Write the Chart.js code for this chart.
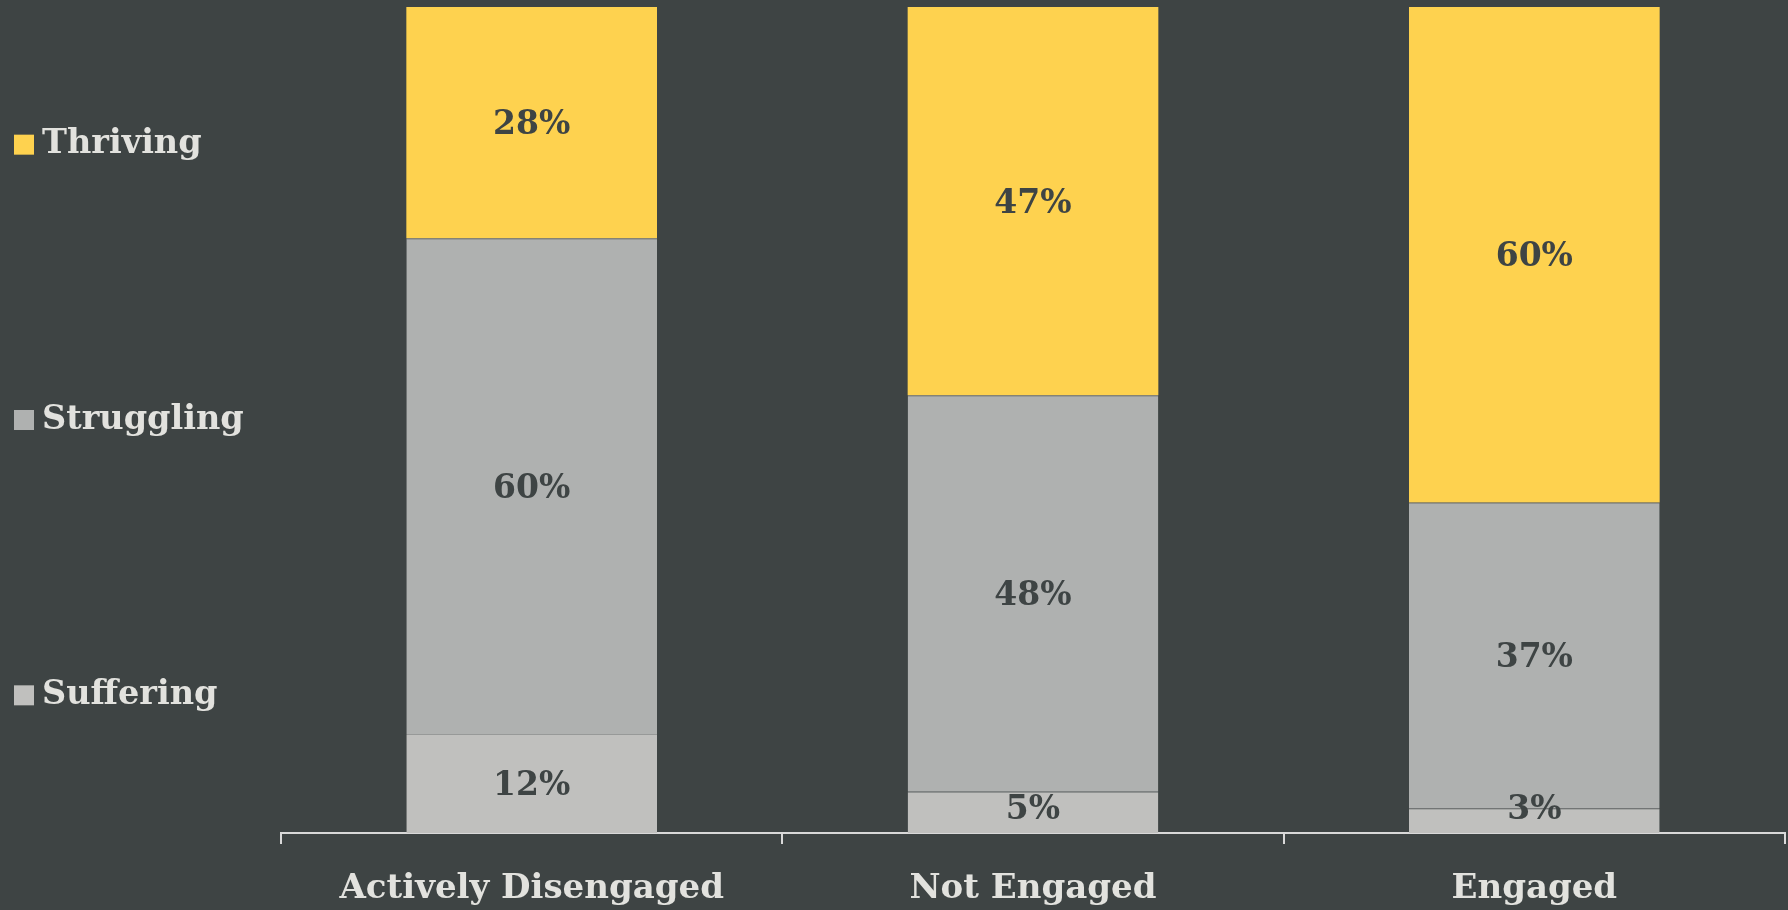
<!DOCTYPE html>
<html>
<head>
<meta charset="utf-8">
<script src="https://cdn.jsdelivr.net/npm/chart.js@4.4.0/dist/chart.umd.min.js"></script>
<style>
  html, body { margin: 0; padding: 0; background: #3e4444; }
  #wrap { width: 1788px; height: 910px; }
</style>
</head>
<body>
<div id="wrap"><canvas id="myChart"></canvas></div>
<script>
// engagement groups and wellbeing split (percent)
var groups = ['Actively Disengaged', 'Not Engaged', 'Engaged'];
var suffering = [12, 5, 3];
var struggling = [60, 48, 37];
var thriving = [28, 47, 60];

var serif = '"DejaVu Serif", Georgia, serif';
var bg = '#3e4444';
var light = '#e2e2de';

// percent text in the middle of every segment
const valueLabels = {
  id: 'valueLabels',
  afterDatasetsDraw(chart) {
    const ctx = chart.ctx;
    ctx.save();
    ctx.font = 'bold 33px ' + serif;
    ctx.fillStyle = bg;
    ctx.textAlign = 'center';
    ctx.textBaseline = 'middle';
    chart.data.datasets.forEach((ds, i) => {
      chart.getDatasetMeta(i).data.forEach((bar, j) => {
        const p = bar.getProps(['x', 'y', 'base'], true);
        let y = (p.y + p.base) / 2 + 3;
        y = Math.min(y, p.base - 23);
        ctx.fillText(ds.data[j] + '%', p.x, y);
      });
    });
    ctx.restore();
  }
};

// legend down the left side, top entry = top segment
const sideLegend = {
  id: 'sideLegend',
  afterDraw(chart) {
    const ctx = chart.ctx;
    const area = chart.chartArea;
    const n = chart.data.datasets.length;
    ctx.save();
    ctx.font = 'bold 33.5px ' + serif;
    ctx.textBaseline = 'middle';
    for (let k = 0; k < n; k++) {
      const ds = chart.data.datasets[n - 1 - k];
      const y = area.top + area.height * (k + 0.5) / n;
      ctx.fillStyle = ds.backgroundColor;
      ctx.fillRect(14, y - 10, 20, 20);
      ctx.fillStyle = light;
      ctx.fillText(ds.label, 42, y);
    }
    ctx.restore();
  }
};

data = {
  labels: groups,
  datasets: [{
    label: 'Suffering',
    data: suffering,
    backgroundColor: '#c0c0be',
    borderColor: '#979998',
    borderWidth: { top: 1, left: 0, right: 0, bottom: 0 }
  }, {
    label: 'Struggling',
    data: struggling,
    backgroundColor: '#afb1b0',
    borderColor: '#979998',
    borderWidth: { top: 1, left: 0, right: 0, bottom: 0 }
  }, {
    label: 'Thriving',
    data: thriving,
    backgroundColor: '#fed24f',
    borderWidth: 0
  }]
};

let config = {
  type: 'bar',
  data,
  options: {
    responsive: true,
    maintainAspectRatio: false,
    animation: false,
    // tick padding is counted twice in the axis height, hence the pull-back below
    layout: { padding: { left: 281, right: 3, top: 7, bottom: -24 } },
    datasets: { bar: { barPercentage: 0.5, categoryPercentage: 1 } },
    plugins: {
      legend: { display: false },
      tooltip: { enabled: false }
    },
    scales: {
      x: {
        stacked: true,
        grid: {
          offset: true,
          drawOnChartArea: false,
          drawTicks: true,
          tickLength: 11,
          color: '#d9d9d9',
          lineWidth: 2
        },
        border: { display: true, color: '#d9d9d9', width: 2 },
        ticks: {
          color: light,
          padding: 28,
          font: { family: serif, size: 34, weight: 'bold', lineHeight: 1 }
        }
      },
      y: {
        stacked: true,
        display: false,
        min: 0,
        max: 100
      }
    }
  },
  plugins: [valueLabels, sideLegend]
};

var myChart = new Chart(document.getElementById('myChart'), config);
</script>
</body>
</html>
